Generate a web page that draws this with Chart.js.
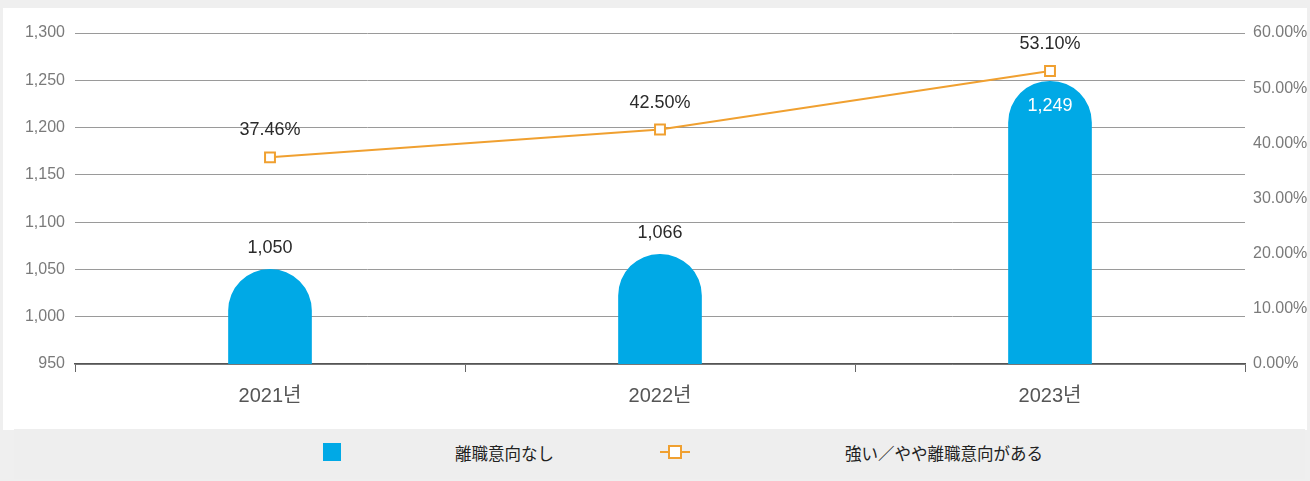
<!DOCTYPE html>
<html><head><meta charset="utf-8">
<script src="https://cdn.jsdelivr.net/npm/chart.js@4/dist/chart.umd.min.js"></script>
<style>
html,body{margin:0;padding:0;background:#efefef;width:1310px;height:481px;overflow:hidden;font-family:"Liberation Sans","Noto Sans CJK JP",sans-serif}
#wrap{position:absolute;left:0;top:0;width:1310px;height:430px}
#legend{position:absolute;left:14px;top:429px;width:1291px;height:50px;background:#eeeeee}
.sw{position:absolute}
.lt{position:absolute;top:13px;font-size:16.5px;line-height:22px;color:#222;font-family:"Noto Sans CJK JP","Liberation Sans",sans-serif;white-space:nowrap}
</style></head>
<body>
<div id="wrap"><canvas id="c" width="1310" height="430"></canvas></div>
<div id="legend">
  <div class="sw" style="left:309px;top:14px;width:18px;height:18px;background:#00a9e6"></div>
  <div class="lt" id="lt1" style="left:441px"></div>
  <div class="sw" style="left:646px;top:22px;width:30px;height:2px;background:#f0a030"></div>
  <div class="sw" style="left:654px;top:16px;width:10px;height:10px;background:#fff;border:2px solid #f0a030"></div>
  <div class="lt" id="lt2" style="left:831px"></div>
</div>
<script>
const categories = ['2021년', '2022년', '2023년'];
const barValues = [1050, 1066, 1249];
const lineValues = [37.46, 42.50, 53.10];
const barSeriesName = '離職意向なし';
const lineSeriesName = '強い／やや離職意向がある';

document.getElementById('lt1').textContent = barSeriesName;
document.getElementById('lt2').textContent = lineSeriesName;

const FONT = '"Liberation Sans", Arial, sans-serif';
const XFONT = '"Liberation Sans", "Noto Sans CJK KR", sans-serif';

const bgPlugin = {
  id: 'bg',
  beforeDraw(chart) {
    const ctx = chart.ctx;
    ctx.save();
    ctx.fillStyle = '#ffffff';
    ctx.fillRect(3, 8, 1304, 422);
    ctx.restore();
  }
};

const labelPlugin = {
  id: 'labels',
  afterDatasetsDraw(chart) {
    const ctx = chart.ctx;
    ctx.save();
    ctx.textAlign = 'center';
    ctx.textBaseline = 'middle';
    ctx.font = '18px ' + FONT;
    const barMeta = chart.getDatasetMeta(1);
    barMeta.data.forEach((el, i) => {
      const v = barValues[i];
      const txt = v.toLocaleString('en-US');
      if (v > 1200) {
        ctx.fillStyle = '#ffffff';
        ctx.fillText(txt, el.x, el.y + 25);
      } else {
        ctx.fillStyle = '#2a2a2a';
        ctx.fillText(txt, el.x, el.y - 21);
      }
    });
    const lineMeta = chart.getDatasetMeta(0);
    lineMeta.data.forEach((el, i) => {
      ctx.fillStyle = '#2a2a2a';
      ctx.fillText(lineValues[i].toFixed(2) + '%', el.x, el.y - 27);
    });
    ctx.restore();
  }
};

new Chart(document.getElementById('c'), {
  data: {
    labels: categories,
    datasets: [
      {
        type: 'line',
        label: lineSeriesName,
        data: lineValues,
        yAxisID: 'y1',
        borderColor: '#f0a030',
        borderWidth: 2,
        pointStyle: 'rect',
        pointRadius: 7,
        pointBorderWidth: 2,
        pointBackgroundColor: '#ffffff',
        pointBorderColor: '#f0a030',
        tension: 0,
        order: 0
      },
      {
        type: 'bar',
        label: barSeriesName,
        data: barValues,
        yAxisID: 'y',
        backgroundColor: '#00a9e6',
        barThickness: 83,
        borderSkipped: false,
        borderRadius: {topLeft: 41.5, topRight: 41.5, bottomLeft: 0, bottomRight: 0},
        order: 1
      }
    ]
  },
  options: {
    responsive: false,
    animation: false,
    layout: {padding: {top: 33, left: 3, right: 0, bottom: 0}},
    plugins: {legend: {display: false}, tooltip: {enabled: false}},
    scales: {
      x: {
        offset: true,
        grid: {offset: true, drawOnChartArea: false, drawTicks: true, tickLength: 8, color: '#666666', lineWidth: 1},
        border: {display: true, color: '#555555', width: 1.5},
        ticks: {font: {family: XFONT, size: 20}, color: '#555555', padding: 12},
        afterFit(s) { s.height = 66; }
      },
      y: {
        position: 'left',
        min: 950, max: 1300,
        ticks: {stepSize: 50, font: {family: FONT, size: 16}, color: '#7a7a7a', padding: 10,
          callback: v => v.toLocaleString('en-US')},
        grid: {color: '#9a9a9a', lineWidth: 1, drawTicks: false},
        border: {display: false},
        afterFit(s) { s.width = 72; }
      },
      y1: {
        position: 'right',
        min: 0, max: 60,
        ticks: {stepSize: 10, font: {family: FONT, size: 16}, color: '#7a7a7a', padding: 8,
          callback: v => v.toFixed(2) + '%'},
        grid: {display: false, drawTicks: false},
        border: {display: false},
        afterFit(s) { s.width = 65; }
      }
    }
  },
  plugins: [bgPlugin, labelPlugin]
});
</script>
</body></html>
